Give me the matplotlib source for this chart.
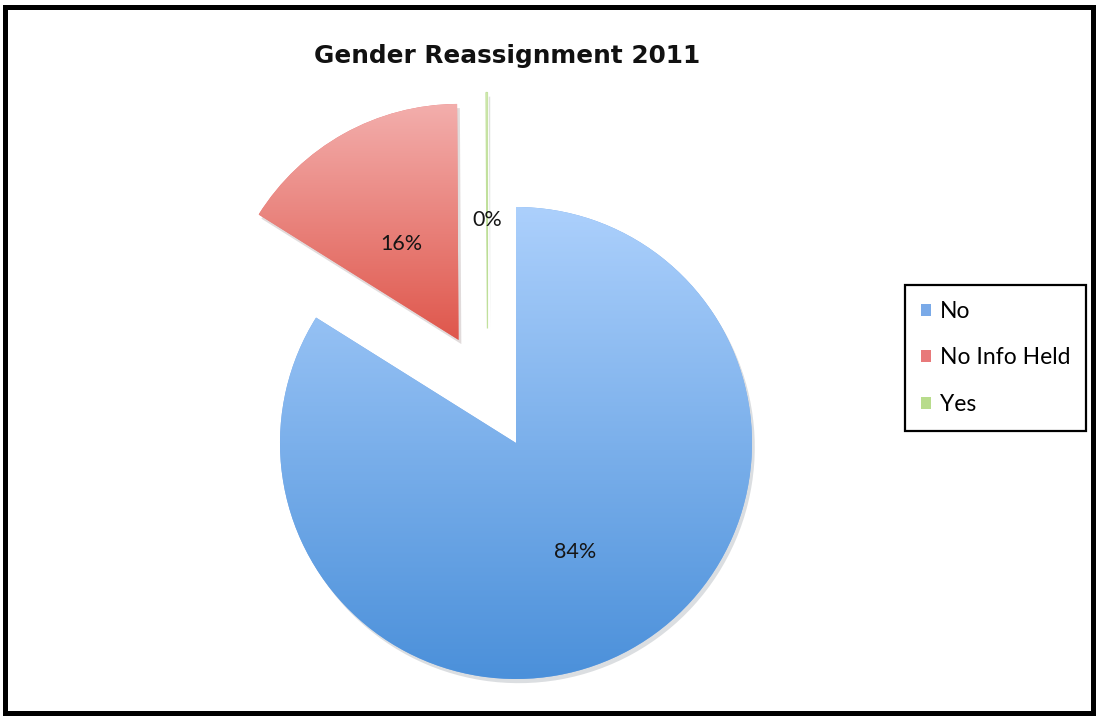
import numpy as np
import matplotlib
matplotlib.use("Agg")
import matplotlib.pyplot as plt
from matplotlib.colors import LinearSegmentedColormap
from matplotlib.patches import Rectangle
from matplotlib import patheffects

# Data
labels = ["No", "No Info Held", "Yes"]
values = [84, 16, 0.1]
explode = [0, 0.5, 0.5]

# Flat colours (legend) and gradient ends (top, bottom) for each slice
flat_colors = ["#7aaae8", "#e8797a", "#b8dc8c"]
grad_colors = [("#acd0fc", "#4b90da"), ("#f3aeac", "#df574c"), ("#cfe8ad", "#a6d27a")]

W, H = 1097, 718
cx, cy, R = 516, 443, 236   # pie centre and radius in pixels

fig = plt.figure(figsize=(W / 100, H / 100), dpi=100)
ax = fig.add_axes([0, 0, 1, 1])

wedges, texts, autotexts = ax.pie(
    values, explode=explode, colors=flat_colors, startangle=90,
    counterclock=False, autopct="%.0f%%", pctdistance=0.5,
    wedgeprops=dict(linewidth=0),
    textprops=dict(fontsize=15.5, family="Lato", color="#151515"))

# the tiny "Yes" slice sits a little left of its bisector
yes_dir = np.deg2rad(104)
old = np.array(wedges[2].center)
new = 0.5 * np.array([np.cos(yes_dir), np.sin(yes_dir)])
wedges[2].set_center(tuple(new))
tx, ty = autotexts[2].get_position()
autotexts[2].set_position((tx + new[0] - old[0], ty + new[1] - old[1] - 0.04))
wedges[2].set_edgecolor("#c4e2a0")
wedges[2].set_linewidth(0.9)
autotexts[0].set_position((autotexts[0].get_position()[0] * 1.04,
                           autotexts[0].get_position()[1] * 1.06))
tx, ty = autotexts[1].get_position()
autotexts[1].set_position((tx, ty - 0.03))

# vertical gradients clipped to each slice, with a soft drop shadow
grad = np.linspace(0, 1, 256).reshape(-1, 1)
for w, (top, bot) in zip(wedges, grad_colors):
    w.set_path_effects([patheffects.SimplePatchShadow(offset=(2, -3), alpha=0.16),
                        patheffects.Normal()])
    ext = w.get_path().get_extents()
    cmap = LinearSegmentedColormap.from_list("g", [top, bot])
    im = ax.imshow(grad, extent=(ext.x0, ext.x1, ext.y0, ext.y1), origin="upper",
                   cmap=cmap, aspect="auto", zorder=w.get_zorder() + 0.1)
    im.set_clip_path(w)
for t in autotexts:
    t.set_zorder(5)

ax.set_xlim(-cx / R, (W - cx) / R)
ax.set_ylim(-(H - cy) / R, cy / R)
ax.set_aspect("auto")
ax.axis("off")

fig.text(507 / W, 1 - 56 / H, "Gender Reassignment 2011", ha="center", va="center",
         fontsize=17.8, fontweight="bold", family="DejaVu Sans", color="#111111")

# plain square keys for the legend
handles = [Rectangle((0, 0), 1, 1, facecolor=c, edgecolor="none") for c in flat_colors]
leg = ax.legend(handles, labels, loc="center left",
                bbox_to_anchor=(905 / W, 1 - 358 / H), bbox_transform=fig.transFigure,
                prop=dict(family="Lato", size=16.5), handlelength=0.42, handleheight=0.42,
                handletextpad=0.4, labelspacing=1.12, borderpad=0.7, borderaxespad=0,
                fancybox=False, framealpha=1, edgecolor="black")
leg.get_frame().set_linewidth(1.6)

# heavy black border round the whole picture
fig.add_artist(Rectangle((4.5 / W, 5.5 / H), 1 - 9 / W, 1 - 12 / H,
                         transform=fig.transFigure, fill=False,
                         edgecolor="black", linewidth=3.6))

fig.savefig("out.png", dpi=100)
